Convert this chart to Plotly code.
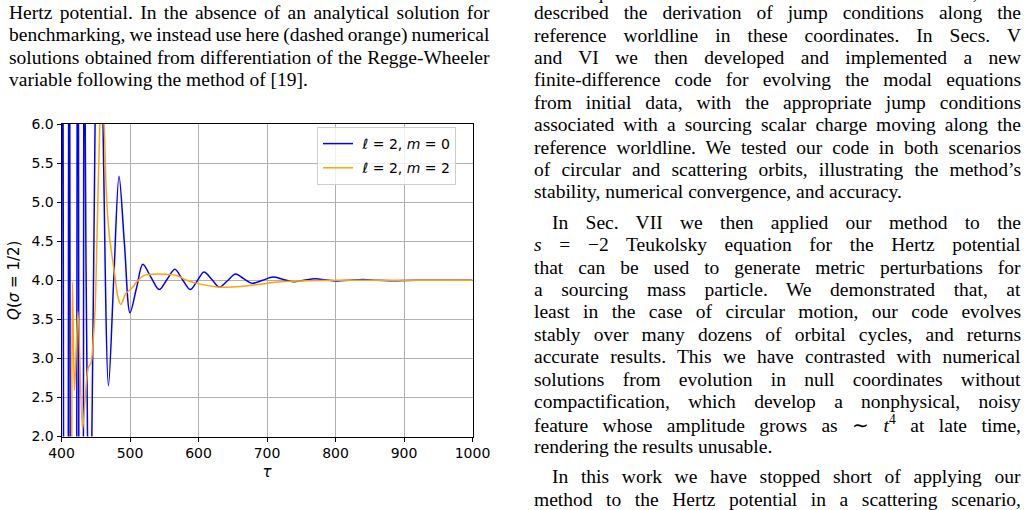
import json
import plotly.graph_objects as go

W, H = 1028, 510

# ---------------- data ----------------
tau_m0 = [399.5, 400.3, 401.3, 402.3, 403.0, 406.5, 409.9, 410.4, 411.3, 412.1, 412.6,
          417.5, 422.3, 422.8, 423.8, 424.8, 425.3, 428.7, 432.0, 432.5, 433.5, 434.6,
          438.0, 441.0, 444.3, 449.0, 454.8, 460.6, 468.6, 476.2, 484.0, 492.0, 500.0,
          509.5, 518.7, 530.5, 542.6, 554.0, 565.5, 576.5, 587.8, 598.0, 608.0, 619.5,
          630.5, 642.0, 654.0, 666.0, 678.0, 693.5, 709.0, 723.5, 738.0, 754.0, 770.0,
          785.5, 801.0, 820.0, 840.0, 860.0, 880.0, 920.0, 960.0, 1000.0]
q_m0 = [2.0, 6.0, 10.0, 6.0, 2.0, -30.0, 2.0, 6.0, 10.0, 6.0, 2.0,
        -30.0, 2.0, 6.0, 10.0, 6.0, 2.0, -30.0, 2.0, 6.0, 10.0, 6.0,
        2.0, 0.8, 2.0, 6.0, 9.5, 6.0, 2.65, 4.0, 5.33, 4.45, 3.585,
        3.9, 4.205, 4.04, 3.88, 4.01, 4.14, 4.01, 3.88, 3.99, 4.107, 4.01,
        3.912, 3.99, 4.08, 4.02, 3.96, 4.0, 4.04, 4.01, 3.98, 4.0, 4.02,
        4.005, 3.99, 4.0, 4.01, 4.0, 3.995, 4.0, 4.0, 4.0]

tau_m2 = [413.5, 415.0, 416.0, 419.0, 424.0, 430.7, 435.5, 439.4, 442.8, 446.0, 449.0,
          452.5, 456.0, 459.0, 462.3, 465.5, 469.5, 474.0, 478.5, 482.0, 486.5, 494.0,
          502.7, 510.0, 519.7, 541.6, 568.0, 583.0, 598.0, 627.0, 661.0, 690.0, 720.0,
          760.0, 800.0, 900.0, 1000.0]
q_m2 = [-3.0, 2.0, 3.98, 2.59, 3.6, 2.09, 2.6, 2.89, 2.93, 3.2, 3.62,
        4.8, 6.0, 6.5, 6.0, 5.1, 4.6, 4.3, 4.02, 3.8, 3.69, 3.83,
        3.9, 3.98, 4.06, 4.08, 4.06, 4.0, 3.96, 3.915, 3.92, 3.95, 3.98,
        3.995, 4.0, 4.0, 4.0]

x_ticks = [400, 500, 600, 700, 800, 900, 1000]
y_ticks = [2.0, 2.5, 3.0, 3.5, 4.0, 4.5, 5.0, 5.5, 6.0]

series_names = ["\u00a0<i>ℓ</i> = 2, <i>m</i> = 0", "\u00a0<i>ℓ</i> = 2, <i>m</i> = 2"]

left_text = [
    "Hertz potential. In the absence of an analytical solution for",
    "benchmarking, we instead use here (dashed orange) numerical",
    "solutions obtained from differentiation of the Regge-Wheeler",
    "variable following the method of [19].",
]
right_text = [
    "field equations in terms of our new coordinates, and",
    "described the derivation of jump conditions along the",
    "reference worldline in these coordinates. In Secs. V",
    "and VI we then developed and implemented a new",
    "finite-difference code for evolving the modal equations",
    "from initial data, with the appropriate jump conditions",
    "associated with a sourcing scalar charge moving along the",
    "reference worldline. We tested our code in both scenarios",
    "of circular and scattering orbits, illustrating the method’s",
    "stability, numerical convergence, and accuracy.",
    "In Sec. VII we then applied our method to the",
    "<i>s</i> = −2 Teukolsky equation for the Hertz potential",
    "that can be used to generate metric perturbations for",
    "a sourcing mass particle. We demonstrated that, at",
    "least in the case of circular motion, our code evolves",
    "stably over many dozens of orbital cycles, and returns",
    "accurate results. This we have contrasted with numerical",
    "solutions from evolution in null coordinates without",
    "compactification, which develop a nonphysical, noisy",
    "feature whose amplitude grows as ∼ <i>t</i><sup>4</sup> at late time,",
    "rendering the results unusable.",
    "In this work we have stopped short of applying our",
    "method to the Hertz potential in a scattering scenario,",
]
left_ragged = {3}
right_ragged = {9, 20}
right_indent = {10, 21}

# ---------------- layout helpers ----------------
def px(x):
    return x / W

def py(y):
    return 1 - y / H

plot_left, plot_right = 61.5, 472.5
plot_top, plot_bottom = 124.0, 436.5

fig = go.Figure()
fig.add_trace(go.Scatter(x=tau_m0, y=q_m0, mode="lines", name=series_names[0], legendgroup="a",
                         line=dict(color="#0000ff", width=1.5, shape="spline", smoothing=0.9)))
fig.add_trace(go.Scatter(x=tau_m2, y=q_m2, mode="lines", name=series_names[1], legendgroup="b",
                         line=dict(color="#ffa500", width=1.5, shape="spline", smoothing=0.9)))

tick_font = dict(family="DejaVu Sans", size=14, color="black")
fig.update_layout(
    width=W, height=H, autosize=False,
    margin=dict(l=0, r=0, t=0, b=0, autoexpand=False),
    paper_bgcolor="white", plot_bgcolor="white",
    font=dict(family="DejaVu Sans", size=14, color="black"),
    showlegend=True,
    legend=dict(x=px(317), y=py(127), xanchor="left", yanchor="top",
                bgcolor="rgba(255,255,255,0.8)", bordercolor="#cccccc", borderwidth=1,
                font=dict(family="DejaVu Sans", size=14, color="black"),
                itemwidth=30, tracegroupgap=3),
    xaxis=dict(domain=[px(plot_left), px(plot_right)], range=[400, 1000], automargin=False,
               tickvals=x_ticks, ticktext=[str(v) for v in x_ticks],
               showgrid=True, gridcolor="#b0b0b0", gridwidth=1,
               showline=True, linecolor="black", linewidth=1, mirror=True,
               ticks="outside", ticklen=4, tickwidth=1, tickcolor="black",
               tickfont=tick_font, zeroline=False,
               title=dict(text="<i>τ</i>", font=dict(family="DejaVu Sans", size=15), standoff=6)),
    yaxis=dict(domain=[py(plot_bottom), py(plot_top)], range=[2, 6], automargin=False,
               tickvals=y_ticks, ticktext=[f"{v:.1f}" for v in y_ticks],
               showgrid=True, gridcolor="#b0b0b0", gridwidth=1,
               showline=True, linecolor="black", linewidth=1, mirror=True,
               ticks="outside", ticklen=4, tickwidth=1, tickcolor="black",
               tickfont=tick_font, zeroline=False,
               title=dict(text="<i>Q</i>(<i>σ</i> = 1/2)", font=dict(family="DejaVu Sans", size=15), standoff=8)),
)

serif = dict(family="Liberation Serif", size=19.5, color="black")
line_step = 22.4
par_gap = 8.0
annotations = []
justify = {}
for i, line in enumerate(left_text):
    if i not in left_ragged:
        justify[len(annotations)] = 490
    annotations.append(dict(text=line, xref="paper", yref="paper", x=px(7), y=py(12.7 + line_step * i),
                            xanchor="left", yanchor="middle", align="left", showarrow=False, font=serif))
yy = 12.7 - line_step
for i, line in enumerate(right_text):
    if i in right_indent:
        yy += par_gap
    x0 = 550 if i in right_indent else 532
    y_line = -8.0 if i == 0 else yy
    if i not in right_ragged:
        justify[len(annotations)] = 1021
    annotations.append(dict(text=line, xref="paper", yref="paper", x=px(x0), y=py(y_line),
                            xanchor="left", yanchor="middle", align="left", showarrow=False, font=serif))
    yy += line_step
fig.update_layout(annotations=annotations)

# justify the paper's text lines (word spacing) once the page has been laid out
post = """
var gd = document.getElementById('{plot_id}');
var targets = TARGETS;
function justifyLines() {
  var base = gd.getBoundingClientRect().left;
  gd.querySelectorAll('g.annotation').forEach(function (g) {
    var idx = g.getAttribute('data-index');
    if (!(idx in targets)) return;
    var t = g.querySelector('text.annotation-text');
    if (!t) return;
    t.style.wordSpacing = '0px';
    var r = t.getBoundingClientRect();
    var n = (t.textContent.match(/ /g) || []).length;
    if (n === 0) return;
    var ws = (targets[idx] - (r.right - base)) / n;
    t.style.wordSpacing = ws + 'px';
  });
}
justifyLines();
""".replace("TARGETS", json.dumps({str(k): v for k, v in justify.items()}))

fig.write_html("out.html", post_script=post)
